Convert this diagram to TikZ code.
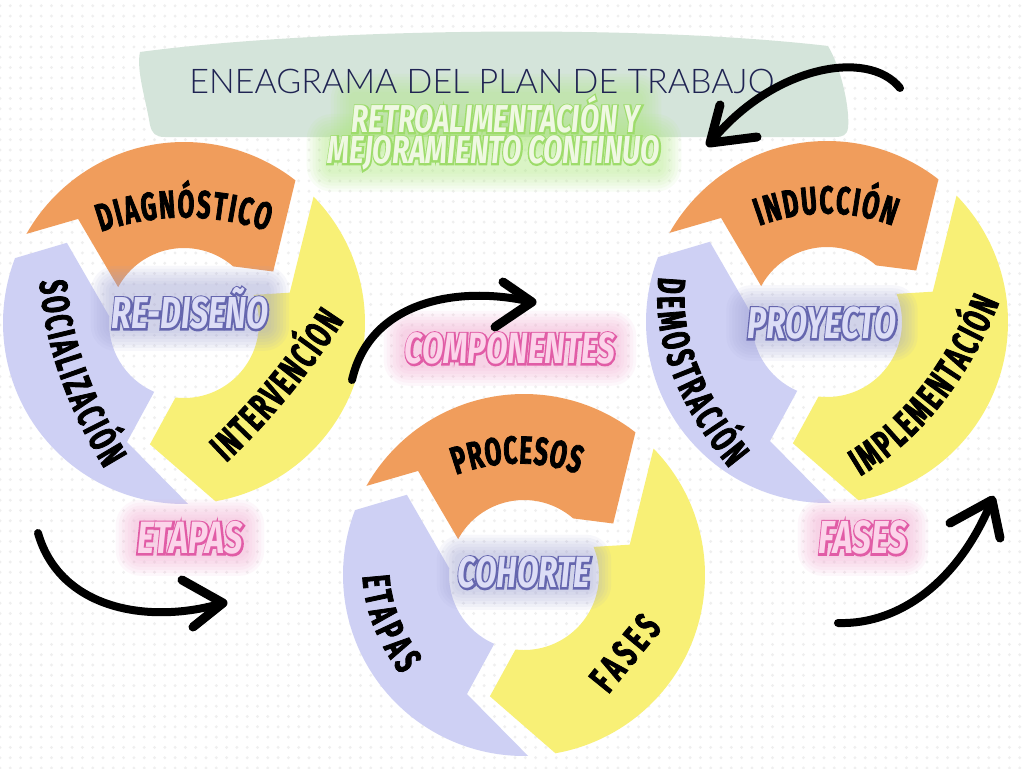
\documentclass[tikz,border=0pt]{standalone}
\usepackage{fontspec}
\usetikzlibrary{calc,decorations.text,patterns.meta}
\newfontfamily\labelfont[FakeStretch=0.62,FakeBold=2]{Fira Sans}
\newfontfamily\glowfont[FakeStretch=0.72]{Fira Sans}
\newfontfamily\glowoutfont[FakeStretch=0.72,FakeBold=8]{Fira Sans}
\newfontfamily\titlefont{Lato Light}
\definecolor{orangeC}{HTML}{F09D5C}
\definecolor{yellowC}{HTML}{F8F076}
\definecolor{lavC}{HTML}{CED0F4}
\definecolor{bannerC}{HTML}{D4E4DA}
\definecolor{dotC}{HTML}{EFEFEF}
\definecolor{navyC}{HTML}{1F2352}
\definecolor{greenFill}{HTML}{EFF8E2}
\definecolor{greenLine}{HTML}{9EDC6B}
\definecolor{greenHalo}{HTML}{B0EC80}
\definecolor{pinkFill}{HTML}{FCD4EA}
\definecolor{pinkLine}{HTML}{E15CA6}
\definecolor{pinkHalo}{HTML}{F2A0CC}
\definecolor{lavFill}{HTML}{DCDDF6}
\definecolor{lavLine}{HTML}{6566AE}
\definecolor{lavHalo}{HTML}{9C9ED3}
\pgfdeclarelayer{bg}
\pgfdeclarelayer{halo}
\pgfsetlayers{bg,halo,main}
\newcommand\ringfmt{\labelfont\bfseries\fontsize{39}{39}\selectfont}
\newcommand\ringlabel[4]{\path[decorate,decoration={text along path,text align={fit to path},raise=-13.5pt,text={|\ringfmt|#4}}] (#1) .. controls ($1.3333*(#2)-0.3333*(#3)$) and ($1.3333*(#2)-0.3333*(#1)$) .. (#3);}
\newcommand\outl[3]{\leavevmode\rlap{\raisebox{-.02em}{\glowoutfont\bfseries\itshape\color{#1}#3}}{\glowfont\bfseries\itshape\color{#2}#3}}
\newcommand\glowtxt[4]{\resizebox{#1}{!}{\outl{#2}{#3}{#4}}}
\newcommand\glowhalo[2]{\begin{pgfonlayer}{halo}\foreach \d in {21,18,15,12,9,6,3}{\pgfmathsetmacro\rc{\d+4}\fill[#2,opacity=0.08,rounded corners=\rc pt] ([shift={(-\d pt,-\d pt)}]#1.south west) rectangle ([shift={(\d pt,\d pt)}]#1.north east);}\end{pgfonlayer}}
\newcommand\ringset[1]{\begin{scope}[shift={(#1)}]
\fill[orangeC] (-150.5:181) arc[start angle=-150.5,end angle=-52,radius=181] -- (-30:103) -- (-49:75) arc[start angle=-49,end angle=-151.4,radius=75] -- (-135.5:148.5) -- cycle;
\fill[yellowC] (-44.3:181) arc[start angle=-44.3,end angle=80,radius=181] -- (105.7:126) -- (96.5:75) arc[start angle=96.5,end angle=-22,radius=75] -- (-16:110) -- cycle;
\fill[lavC] (88.7:181) arc[start angle=88.7,end angle=201,radius=181] -- (-145.6:142) -- (-175:75) arc[start angle=-175,end angle=-246.6,radius=75] -- (-244.4:132) -- cycle;
\end{scope}}
\tikzset{
  glow/.style={inner sep=0pt,anchor=base},
  brush/.style={draw=black,line width=8pt,line cap=round,line join=round},
  brushhead/.style={draw=black,line width=9pt,line cap=round,line join=round}
}
\begin{document}
\begin{tikzpicture}[x=1pt,y=-1pt]
\useasboundingbox (0,0) rectangle (1024,768);
\begin{pgfonlayer}{bg}
\fill[white] (0,0) rectangle (1024,768);
\fill[pattern={Dots[distance=10.3pt,radius=1.6pt]},pattern color=dotC] (0,0) rectangle (1024,768);
\fill[bannerC] (140,52) .. controls (320,28) and (640,24) .. (828,46) .. controls (842,70) and (850,110) .. (848,128) .. controls (847,135) and (843,137) .. (835,137) -- (165,137) .. controls (155,137) and (152,133) .. (150,125) .. controls (146,100) and (136,70) .. (140,52) -- cycle;
\ringset{184,323}
\ringset{524,575}
\ringset{827,322}
\end{pgfonlayer}
% ring labels
\ringlabel{97,219}{183,204}{271,218}{DIAGNÓSTICO}
\ringlabel{53,280}{72,370}{116,462}{SOCIALIZACIÓN}
\ringlabel{217,453}{277,389}{333,313}{INTERVENCÍON}
\ringlabel{452,462}{517,450}{582,461}{PROCESOS}
\ringlabel{376,575}{386,621}{412,667}{ETAPAS}
\ringlabel{598,686}{624,654}{652,620}{FASES}
\ringlabel{755,213}{827,200}{897,213}{INDUCCIÓN}
\ringlabel{672,278}{684,367}{740,460}{DEMOSTRACIÓN}
\ringlabel{853,465}{930,397}{987,297}{IMPLEMENTACIÓN}
% title
\node[inner sep=0pt] (title) at (482,81) {\resizebox{585pt}{!}{\titlefont\color{navyC}ENEAGRAMA DEL PLAN DE TRABAJO}};
% glowing texts
\node[glow] (retro1) at (496,132) {\glowtxt{288pt}{greenLine}{greenFill}{RETROALIMENTACIÓN Y}};
\node[glow] (retro2) at (494,163) {\glowtxt{332pt}{greenLine}{greenFill}{MEJORAMIENTO CONTINUO}};
\node[glow] (comp) at (510,363) {\glowtxt{210pt}{pinkLine}{pinkFill}{COMPONENTES}};
\node[glow] (etapasp) at (190,553) {\glowtxt{106pt}{pinkLine}{pinkFill}{ETAPAS}};
\node[glow] (fasesp) at (863,553) {\glowtxt{88pt}{pinkLine}{pinkFill}{FASES}};
\node[glow] (rediseno) at (190,328) {\glowtxt{156pt}{lavLine}{lavFill}{RE-DISEÑO}};
\node[glow] (cohorte) at (524,587) {\glowtxt{132pt}{lavLine}{lavFill}{COHORTE}};
\node[glow] (proyecto) at (822,338) {\glowtxt{149pt}{lavLine}{lavFill}{PROYECTO}};
\glowhalo{retro1}{greenHalo}
\glowhalo{retro2}{greenHalo}
\glowhalo{comp}{pinkHalo}
\glowhalo{etapasp}{pinkHalo}
\glowhalo{fasesp}{pinkHalo}
\glowhalo{rediseno}{lavHalo}
\glowhalo{cohorte}{lavHalo}
\glowhalo{proyecto}{lavHalo}
% arrows
\coordinate (a1s) at (900,88); \coordinate (a1t) at (710,143);
\coordinate (a1l) at (720,105); \coordinate (a1r) at (757,137);
\draw[brush] (a1s) .. controls (868,48) and (772,66) .. (a1t);
\draw[brushhead] (a1l) -- (a1t) -- (a1r);
\coordinate (a2s) at (352,380); \coordinate (a2t) at (532,302);
\coordinate (a2l) at (503,282); \coordinate (a2r) at (495,327);
\draw[brush] (a2s) .. controls (370,300) and (460,285) .. (a2t);
\draw[brushhead] (a2l) -- (a2t) -- (a2r);
\coordinate (a3s) at (38,533); \coordinate (a3t) at (223,603);
\coordinate (a3l) at (182,580); \coordinate (a3r) at (193,627);
\draw[brush] (a3s) .. controls (60,610) and (150,625) .. (a3t);
\draw[brushhead] (a3l) -- (a3t) -- (a3r);
\coordinate (a4s) at (838,623); \coordinate (a4t) at (992,500);
\coordinate (a4l) at (950,523); \coordinate (a4r) at (1000,538);
\draw[brush] (a4s) .. controls (900,625) and (960,580) .. (a4t);
\draw[brushhead] (a4l) -- (a4t) -- (a4r);
\end{tikzpicture}
\end{document}
